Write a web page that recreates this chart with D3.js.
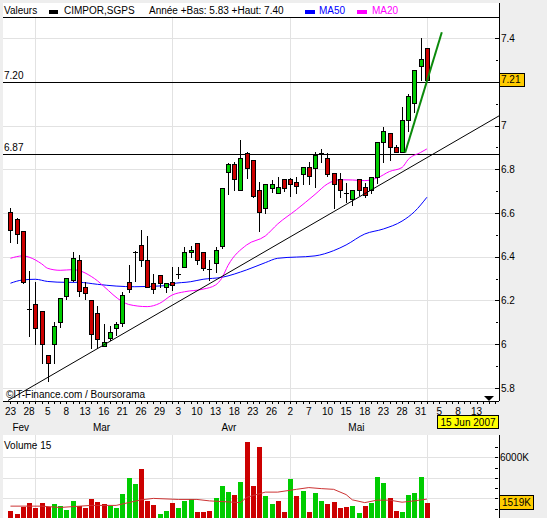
<!DOCTYPE html>
<html>
<head>
<meta charset="utf-8">
<script src="https://cdn.jsdelivr.net/npm/d3@7"></script>
<style>
  body { margin: 0; background: #eeeeee; }
  svg { display: block; font-family: "Liberation Sans", Arial, sans-serif; font-size: 10px; }
</style>
</head>
<body>
<svg id="chart" width="547" height="518"></svg>
<script>
// ===== DATA =====
var title = "CIMPOR,SGPS";
var firstDay = "2007-02-23";
var holidays = ["2007-04-06", "2007-04-09", "2007-05-01"];
var monthNames = ["Jan", "Fev", "Mar", "Avr", "Mai", "Jun"];
var viewDate = "15 Jun 2007";

// daily candles, Feb 23 -> Jun 1
var opens  = [6.604,6.572,6.519,6.161,6.183,6.151,5.949,6.000,6.100,6.222,6.294,6.385,6.260,6.202,6.141,5.992,6.030,6.073,6.098,6.283,
              6.422,6.453,6.384,6.281,6.318,6.260,6.283,6.321,6.352,6.421,6.462,6.421,6.343,6.370,6.449,6.789,6.823,6.704,6.874,6.843,
              6.706,6.622,6.714,6.691,6.755,6.755,6.741,6.779,6.812,6.805,6.874,6.851,6.782,6.755,6.691,6.663,6.755,6.721,6.706,6.764,
              6.924,6.965,6.901,6.878,7.026,7.103,7.270,7.354];
var highs  = [6.622,6.575,6.520,6.335,6.286,6.151,5.950,6.100,6.210,6.302,6.423,6.408,6.286,6.202,6.175,6.092,6.085,6.103,6.240,6.363,
              6.425,6.523,6.497,6.320,6.318,6.281,6.353,6.353,6.446,6.451,6.462,6.421,6.385,6.446,6.714,6.828,6.831,6.935,6.877,6.843,
              6.741,6.732,6.751,6.764,6.755,6.760,6.764,6.812,6.835,6.878,6.892,6.874,6.782,6.782,6.736,6.703,6.755,6.736,6.764,6.924,
              6.991,6.965,6.912,7.084,7.145,7.255,7.400,7.354];
var lows   = [6.469,6.465,6.280,6.039,6.000,5.913,5.830,5.913,6.080,6.207,6.290,6.222,6.207,5.981,5.981,5.990,6.019,6.042,6.083,6.240,
              6.289,6.358,6.262,6.233,6.262,6.240,6.249,6.302,6.352,6.400,6.368,6.340,6.294,6.332,6.442,6.687,6.706,6.704,6.762,6.671,
              6.518,6.602,6.698,6.691,6.701,6.680,6.691,6.732,6.732,6.721,6.831,6.770,6.622,6.675,6.652,6.637,6.683,6.672,6.693,6.739,
              6.831,6.843,6.878,6.878,6.973,7.060,7.209,7.210];
var closes = [6.523,6.503,6.283,6.161,6.076,6.000,5.913,6.082,6.210,6.302,6.393,6.243,6.233,6.047,6.022,6.011,6.057,6.092,6.225,6.251,
              6.422,6.385,6.262,6.253,6.281,6.281,6.270,6.321,6.421,6.431,6.385,6.350,6.343,6.431,6.714,6.823,6.755,6.851,6.805,6.678,
              6.604,6.732,6.732,6.721,6.714,6.732,6.724,6.812,6.771,6.863,6.874,6.779,6.732,6.706,6.691,6.703,6.706,6.683,6.764,6.924,
              6.976,6.901,6.881,7.026,7.136,7.255,7.304,7.210];
var prevClose = 6.60;

// volumes in thousands
var volumes = [810,510,1150,1520,1020,1520,1150,1420,1220,910,1730,1220,1050,1930,1630,1420,1250,1020,2440,3960,
               3350,4880,1730,1320,510,810,1520,1020,1730,1900,710,710,810,2030,3180,2640,2340,3560,7520,3180,
               7010,2240,1420,1730,710,3860,2240,2740,710,2540,1730,1420,1630,1020,1120,1220,610,1220,1520,4070,
               3460,2030,810,710,2340,2540,4070,1519];

// moving averages (day index, value)
var ma20Days = [0,2,3,5,6,8,10,11,13,14,15,18,19,22,24,26,28,31,33,34,35,38,41,43,46,49,51,53,55,57,59,61,63,64,66,67];
var ma20Vals = [6.393,6.404,6.398,6.368,6.347,6.338,6.341,6.337,6.310,6.290,6.265,6.195,6.182,6.172,6.187,6.225,6.240,6.252,6.271,6.302,
                6.360,6.454,6.495,6.550,6.615,6.685,6.733,6.752,6.751,6.748,6.760,6.790,6.808,6.845,6.877,6.893];
var ma50Days = [0,2,4,6,9,11,14,17,20,25,26,29,31,34,38,41,43,49,52,54,57,60,63,65,67];
var ma50Vals = [6.279,6.294,6.297,6.287,6.283,6.283,6.274,6.266,6.263,6.268,6.276,6.286,6.297,6.306,6.340,6.373,6.393,6.404,6.428,6.454,
                6.504,6.527,6.563,6.606,6.672];
var volMaDays = [0,5,8,13,17,19,21,23,27,30,32,35,37,38,41,43,46,48,50,52,54,55,57,59,61,63,65,67];
var volMaVals = [1250,1250,1120,1320,1320,1590,1860,2000,1900,1900,1760,1660,1590,2100,2610,2610,2880,3050,2950,2880,2370,1860,1590,1830,
                 1830,1630,1760,1930];

// drawn lines: horizontal levels and two trend lines (day index, price)
var levels = [7.20, 6.87];
var trendSupport = [[-0.4, 5.743], [78.6, 7.044]];
var trendFast = [[63.5, 6.876], [69.4, 7.426]];

var priceTicks = [5.8, 6, 6.2, 6.4, 6.6, 6.8, 7, 7.2, 7.4];
var volTicks = [1000, 2000, 3000, 4000, 5000, 6000, 7000];

// ===== TRADING DAYS =====
var days = [];
var d = new Date(firstDay + "T12:00:00");
var iso = d3.timeFormat("%Y-%m-%d");
while (days.length < 80) {
	if (d.getDay() != 0 && d.getDay() != 6 && holidays.indexOf(iso(d)) < 0) days.push(new Date(d));
	d.setDate(d.getDate() + 1);
}

// ===== SCALES =====
var svg = d3.select("#chart");
var x = d3.scaleLinear().domain([-1.2, 78.6]).range([3, 499]);
var y = d3.scaleLinear().domain([5.8, 7.4]).range([388, 38]);
var yv = d3.scaleLinear().domain([0, 7000]).range([519, 446.9]);
var px = function(v) { return Math.round(v) + 0.5; };

var RED = "#cc0000", GREEN = "#00cc00", GRID = "#e2e2e2";

// ===== PANELS =====
svg.append("rect").attr("x", 3).attr("y", 3).attr("width", 496).attr("height", 398).attr("fill", "#fff");
svg.append("rect").attr("x", 3).attr("y", 435).attr("width", 496).attr("height", 83).attr("fill", "#fff");

svg.append("clipPath").attr("id", "clipMain")
	.append("rect").attr("x", 3).attr("y", 18).attr("width", 496).attr("height", 383);

// month start indices for vertical grid
var monthStarts = [];
days.forEach(function(dd, i) {
	if (i > 0 && dd.getMonth() != days[i - 1].getMonth()) monthStarts.push(i);
});

// grid main
var grid = svg.append("g").attr("stroke", GRID).attr("shape-rendering", "crispEdges");
priceTicks.forEach(function(t) {
	grid.append("line").attr("x1", 3).attr("x2", 499).attr("y1", px(y(t))).attr("y2", px(y(t)));
});
monthStarts.forEach(function(i) {
	grid.append("line").attr("x1", px(x(i))).attr("x2", px(x(i))).attr("y1", 18).attr("y2", 401);
	grid.append("line").attr("x1", px(x(i))).attr("x2", px(x(i))).attr("y1", 435).attr("y2", 518);
});
[2000, 4000, 6000].forEach(function(t) {
	grid.append("line").attr("x1", 3).attr("x2", 499).attr("y1", px(yv(t))).attr("y2", px(yv(t)));
});

// ===== HEADER LEGEND =====
var head = svg.append("g");
head.append("line").attr("x1", 3).attr("x2", 499).attr("y1", 17.5).attr("y2", 17.5).attr("stroke", "#000");
head.append("text").attr("x", 4).attr("y", 14).text("Valeurs");
head.append("rect").attr("x", 49).attr("y", 10).attr("width", 9).attr("height", 4).attr("fill", "#000");
head.append("text").attr("x", 64).attr("y", 14).text(title);
head.append("text").attr("x", 149).attr("y", 14)
	.text("Année +Bas: " + d3.format(".2f")(d3.min(lows)) + " +Haut: " + d3.format(".2f")(d3.max(highs)));
head.append("rect").attr("x", 305).attr("y", 10).attr("width", 10).attr("height", 4).attr("fill", "#0000ff");
head.append("text").attr("x", 319).attr("y", 14).attr("fill", "#0000ff").text("MA50");
head.append("rect").attr("x", 357).attr("y", 10).attr("width", 10).attr("height", 4).attr("fill", "#ff00ff");
head.append("text").attr("x", 372).attr("y", 14).attr("fill", "#ff00ff").text("MA20");

// ===== LEVEL LINES =====
levels.forEach(function(lv) {
	svg.append("line").attr("x1", 3).attr("x2", 499).attr("y1", px(y(lv))).attr("y2", px(y(lv)))
		.attr("stroke", "#000");
	svg.append("text").attr("x", 4).attr("y", px(y(lv)) - 4).text(d3.format(".2f")(lv));
});

// ===== MOVING AVERAGES =====
var maLine = d3.line().x(function(p) { return x(p[0]); }).y(function(p) { return y(p[1]); }).curve(d3.curveMonotoneX);
svg.append("path").datum(d3.zip(ma50Days, ma50Vals)).attr("d", maLine)
	.attr("fill", "none").attr("stroke", "#0000ff").attr("stroke-width", 1);
svg.append("path").datum(d3.zip(ma20Days, ma20Vals)).attr("d", maLine)
	.attr("fill", "none").attr("stroke", "#ff00ff").attr("stroke-width", 1);

// ===== CANDLES =====
var candles = svg.append("g").attr("shape-rendering", "crispEdges");
opens.forEach(function(o, i) {
	var c = closes[i], cx = px(x(i));
	candles.append("line").attr("x1", cx).attr("x2", cx)
		.attr("y1", Math.round(y(highs[i]))).attr("y2", Math.round(y(lows[i])) + 1).attr("stroke", "#000");
	if (Math.abs(o - c) < 0.004) {
		candles.append("line").attr("x1", cx - 2.5).attr("x2", cx + 2.5)
			.attr("y1", px(y(o))).attr("y2", px(y(o))).attr("stroke", "#000");
		return;
	}
	var top = Math.round(y(Math.max(o, c))), bot = Math.round(y(Math.min(o, c)));
	candles.append("rect").attr("x", cx - 2).attr("y", top + 0.5)
		.attr("width", 4).attr("height", Math.max(1, bot - top))
		.attr("fill", c > o ? GREEN : RED).attr("stroke", "#000");
});

// ===== TREND LINES =====
var tl = d3.line().x(function(p) { return x(p[0]); }).y(function(p) { return y(p[1]); });
svg.append("path").datum(trendSupport).attr("d", tl).attr("clip-path", "url(#clipMain)")
	.attr("stroke", "#000").attr("stroke-width", 1).attr("fill", "none");
svg.append("path").datum(trendFast).attr("d", tl).attr("clip-path", "url(#clipMain)")
	.attr("stroke", "#0b8a0b").attr("stroke-width", 2).attr("fill", "none");

// ===== PRICE AXIS =====
var last = closes[closes.length - 1];
svg.append("line").attr("x1", 499.5).attr("x2", 499.5).attr("y1", 3).attr("y2", 401).attr("stroke", "#000");
var ya = svg.append("g").attr("shape-rendering", "crispEdges");
d3.range(5.8, 7.45, 0.1).forEach(function(t, k) {
	var yy = px(y(t));
	ya.append("line").attr("x1", k % 2 ? 496 : 495).attr("x2", k % 2 ? 498 : 499)
		.attr("y1", yy).attr("y2", yy).attr("stroke", "#000");
});
// labels hidden behind the last price tag are skipped
priceTicks.filter(function(t) { return Math.abs(y(t) - y(last)) > 10; }).forEach(function(t) {
	ya.append("text").attr("x", 501).attr("y", y(t)).attr("dy", "0.35em").text(+t.toFixed(1));
});
// last price tag
svg.append("rect").attr("x", 499.5).attr("y", Math.round(y(last)) - 6.5).attr("width", 25).attr("height", 13)
	.attr("fill", "#ffcc00").attr("stroke", "#000");
svg.append("text").attr("x", 501).attr("y", y(last)).attr("dy", "0.35em").text(d3.format(".2f")(last));

// ===== TIME AXIS =====
svg.append("line").attr("x1", 3).attr("x2", 499).attr("y1", 401.5).attr("y2", 401.5).attr("stroke", "#000");
var xa = svg.append("g");
days.forEach(function(dd, i) {
	if (x(i) < 4 || x(i) > 498) return;
	xa.append("line").attr("x1", px(x(i))).attr("x2", px(x(i))).attr("y1", 401).attr("y2", 404)
		.attr("stroke", "#000").attr("shape-rendering", "crispEdges");
	if (i % 3 == 0 && i <= 75)
		xa.append("text").attr("x", x(i)).attr("y", 414.5).attr("text-anchor", "middle").text(dd.getDate());
});
// month names centred on their visible days
d3.groups(d3.range(0, 67), function(i) { return days[i].getMonth(); }).forEach(function(g) {
	var idx = g[1];
	xa.append("text").attr("x", x((idx[0] + idx[idx.length - 1]) / 2) + 1).attr("y", 431)
		.attr("text-anchor", "middle").text(monthNames[g[0]]);
});
svg.append("text").attr("x", 6).attr("y", 398).text("\u00a9IT-Finance.com / Boursorama");
svg.append("path").attr("d", "M484,396 L494,396 L489,401 Z").attr("fill", "#000");
svg.append("rect").attr("x", 437.5).attr("y", 415.5).attr("width", 61).attr("height", 13)
	.attr("fill", "#ffff00").attr("stroke", "#000");
svg.append("text").attr("x", 468).attr("y", 425.5).attr("text-anchor", "middle").text(viewDate);

// ===== VOLUME =====
var vol = svg.append("g").attr("shape-rendering", "crispEdges");
volumes.forEach(function(v, i) {
	var pc = i == 0 ? prevClose : closes[i - 1];
	vol.append("rect").attr("x", Math.round(x(i)) - 2).attr("y", yv(v))
		.attr("width", 5).attr("height", yv(0) - yv(v))
		.attr("fill", closes[i] >= pc ? GREEN : RED);
});
svg.append("path").datum(d3.zip(volMaDays, volMaVals))
	.attr("d", d3.line().x(function(p) { return x(p[0]); }).y(function(p) { return yv(p[1]); }))
	.attr("fill", "none").attr("stroke", "#cc3333").attr("stroke-width", 1);
svg.append("text").attr("x", 4).attr("y", 449).text("Volume 15");
svg.append("line").attr("x1", 499.5).attr("x2", 499.5).attr("y1", 435).attr("y2", 518).attr("stroke", "#000");
volTicks.forEach(function(t) {
	svg.append("line").attr("x1", 495).attr("x2", 498).attr("y1", px(yv(t))).attr("y2", px(yv(t)))
		.attr("stroke", "#000").attr("shape-rendering", "crispEdges");
});
svg.append("text").attr("x", 500).attr("y", yv(6000)).attr("dy", "0.35em").text("6000K");
var lastVol = volumes[volumes.length - 1];
svg.append("rect").attr("x", 499.5).attr("y", 495.5).attr("width", 34).attr("height", 14)
	.attr("fill", "#ffcc00").attr("stroke", "#000");
svg.append("text").attr("x", 502).attr("y", 502.5).attr("dy", "0.35em").text(lastVol + "K");
</script>
</body>
</html>
